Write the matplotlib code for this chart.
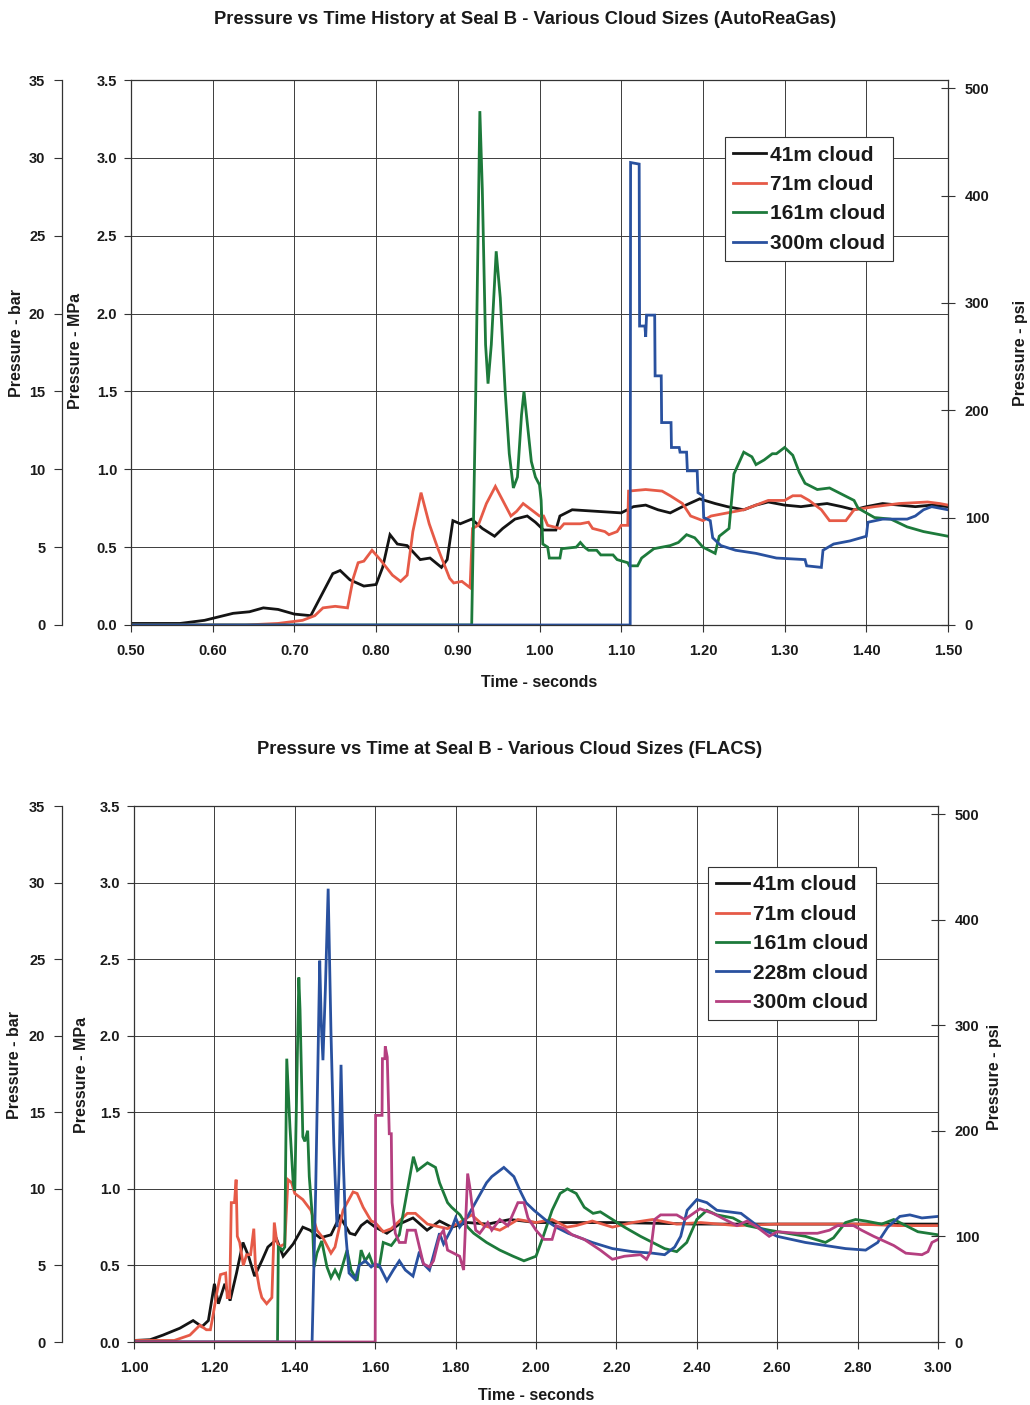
import matplotlib
matplotlib.use("Agg")
import matplotlib.pyplot as plt
import numpy as np

plt.rcParams['font.family'] = ['Liberation Sans', 'DejaVu Sans']
plt.rcParams['font.weight'] = 'bold'

W, H = 1030, 1405
MPA_TO_PSI = 145.038

# ---------------- AutoReaGas histories (time s, pressure MPa) ----------------
are_41_t = [0.50, 0.56, 0.59, 0.625, 0.645, 0.662, 0.68, 0.70, 0.72, 0.732, 0.747, 0.756, 0.768, 0.785,
            0.80, 0.808, 0.817, 0.826, 0.838, 0.854, 0.866, 0.88, 0.887, 0.894, 0.903, 0.917, 0.93,
            0.945, 0.955, 0.97, 0.985, 0.995, 1.005, 1.02, 1.025, 1.04, 1.07, 1.10, 1.115, 1.13, 1.145,
            1.16, 1.175, 1.196, 1.215, 1.23, 1.25, 1.265, 1.28, 1.30, 1.32, 1.335, 1.352, 1.37, 1.385,
            1.40, 1.42, 1.44, 1.46, 1.48, 1.50]
are_41_p = [0.01, 0.01, 0.03, 0.075, 0.085, 0.11, 0.10, 0.07, 0.06, 0.18, 0.33, 0.35, 0.29, 0.25,
            0.26, 0.37, 0.58, 0.52, 0.51, 0.42, 0.43, 0.37, 0.42, 0.67, 0.65, 0.68, 0.62,
            0.57, 0.62, 0.68, 0.70, 0.66, 0.61, 0.61, 0.70, 0.74, 0.73, 0.72, 0.76, 0.77, 0.74,
            0.72, 0.76, 0.81, 0.78, 0.76, 0.74, 0.77, 0.79, 0.77, 0.76, 0.77, 0.78, 0.76, 0.74,
            0.76, 0.78, 0.77, 0.76, 0.77, 0.76]

are_71_t = [0.50, 0.64, 0.68, 0.71, 0.725, 0.735, 0.75, 0.765, 0.772, 0.778, 0.785, 0.795, 0.805, 0.82,
            0.83, 0.838, 0.845, 0.855, 0.865, 0.875, 0.89, 0.895, 0.905, 0.915, 0.918, 0.925, 0.935,
            0.946, 0.955, 0.965, 0.972, 0.98, 0.99, 1.00, 1.005, 1.01, 1.025, 1.03, 1.05, 1.06, 1.065,
            1.08, 1.085, 1.095, 1.10, 1.108, 1.109, 1.13, 1.15, 1.16, 1.175, 1.185, 1.20, 1.21, 1.23,
            1.25, 1.265, 1.28, 1.30, 1.31, 1.32, 1.33, 1.345, 1.355, 1.375, 1.385, 1.41, 1.44, 1.475,
            1.49, 1.50]
are_71_p = [0.0, 0.0, 0.01, 0.03, 0.06, 0.11, 0.12, 0.11, 0.30, 0.40, 0.41, 0.48, 0.42, 0.32,
            0.28, 0.32, 0.60, 0.85, 0.65, 0.50, 0.30, 0.27, 0.28, 0.24, 0.62, 0.64, 0.78,
            0.89, 0.80, 0.70, 0.73, 0.78, 0.74, 0.70, 0.70, 0.64, 0.62, 0.65, 0.65, 0.66, 0.62,
            0.60, 0.58, 0.60, 0.64, 0.64, 0.86, 0.87, 0.86, 0.83, 0.78, 0.70, 0.67, 0.70, 0.72,
            0.74, 0.77, 0.80, 0.80, 0.83, 0.83, 0.80, 0.74, 0.67, 0.67, 0.74, 0.76, 0.78, 0.79,
            0.78, 0.77]

are_161_t = [0.50, 0.917, 0.922, 0.927, 0.930, 0.934, 0.937, 0.941, 0.947, 0.952, 0.958, 0.963, 0.968,
             0.973, 0.978, 0.981, 0.985, 0.99, 0.995, 1.00, 1.002, 1.004, 1.01, 1.012, 1.025, 1.027,
             1.045, 1.05, 1.055, 1.06, 1.07, 1.075, 1.09, 1.095, 1.108, 1.11, 1.12, 1.125, 1.14, 1.16,
             1.17, 1.18, 1.19, 1.20, 1.215, 1.22, 1.232, 1.238, 1.25, 1.26, 1.265, 1.275, 1.285, 1.29,
             1.30, 1.31, 1.318, 1.325, 1.34, 1.355, 1.37, 1.385, 1.39, 1.41, 1.43, 1.45, 1.47, 1.50]
are_161_p = [0.0, 0.0, 1.5, 3.30, 2.8, 1.8, 1.55, 1.8, 2.40, 2.1, 1.5, 1.1, 0.88,
             0.95, 1.35, 1.50, 1.30, 1.05, 0.95, 0.90, 0.80, 0.52, 0.50, 0.43, 0.43, 0.49,
             0.50, 0.53, 0.50, 0.48, 0.48, 0.45, 0.45, 0.42, 0.40, 0.38, 0.38, 0.43, 0.49, 0.51,
             0.53, 0.58, 0.56, 0.50, 0.46, 0.57, 0.62, 0.97, 1.11, 1.08, 1.03, 1.06, 1.10, 1.10,
             1.14, 1.09, 0.98, 0.91, 0.87, 0.88, 0.84, 0.80, 0.75, 0.69, 0.68, 0.63, 0.60, 0.57]

are_300_t = [0.50, 1.111, 1.1115, 1.122, 1.1225, 1.129, 1.130, 1.131, 1.141, 1.1415, 1.149, 1.1495,
             1.161, 1.1615, 1.171, 1.172, 1.180, 1.181, 1.193, 1.194, 1.200, 1.201, 1.209, 1.212,
             1.222, 1.24, 1.265, 1.29, 1.325, 1.327, 1.345, 1.347, 1.36, 1.38, 1.40, 1.402, 1.42,
             1.45, 1.46, 1.47, 1.48, 1.50]
are_300_p = [0.0, 0.0, 2.97, 2.96, 1.92, 1.92, 1.85, 1.99, 1.99, 1.60, 1.60, 1.30,
             1.30, 1.14, 1.14, 1.11, 1.11, 0.99, 0.99, 0.85, 0.83, 0.69, 0.67, 0.56,
             0.51, 0.48, 0.46, 0.43, 0.42, 0.38, 0.37, 0.48, 0.52, 0.54, 0.57, 0.66, 0.68,
             0.68, 0.70, 0.74, 0.76, 0.74]

# ---------------- FLACS histories (time s, pressure MPa) ----------------
fl_41_t = [1.00, 1.04, 1.072, 1.114, 1.147, 1.169, 1.185, 1.20, 1.21, 1.226, 1.239, 1.255, 1.271, 1.285,
           1.30, 1.318, 1.333, 1.355, 1.371, 1.396, 1.42, 1.438, 1.463, 1.49, 1.512, 1.537, 1.55, 1.565,
           1.58, 1.60, 1.629, 1.66, 1.694, 1.729, 1.76, 1.79, 1.83, 1.88, 1.935, 2.00, 2.20, 2.40, 2.60,
           2.80, 3.00]
fl_41_p = [0.01, 0.015, 0.045, 0.09, 0.14, 0.10, 0.14, 0.38, 0.25, 0.38, 0.27, 0.45, 0.65, 0.56,
           0.43, 0.53, 0.62, 0.67, 0.56, 0.64, 0.75, 0.73, 0.68, 0.70, 0.82, 0.71, 0.70, 0.76,
           0.79, 0.75, 0.71, 0.77, 0.81, 0.73, 0.79, 0.75, 0.78, 0.77, 0.80, 0.78, 0.78, 0.77, 0.77,
           0.77, 0.77]

fl_71_t = [1.00, 1.10, 1.139, 1.164, 1.18, 1.19, 1.195, 1.206, 1.215, 1.228, 1.232, 1.238, 1.242, 1.250,
           1.254, 1.257, 1.263, 1.272, 1.28, 1.29, 1.298, 1.302, 1.312, 1.318, 1.33, 1.343, 1.349,
           1.355, 1.36, 1.375, 1.383, 1.392, 1.40, 1.42, 1.44, 1.455, 1.47, 1.49, 1.50, 1.52, 1.545,
           1.555, 1.57, 1.59, 1.60, 1.62, 1.64, 1.68, 1.70, 1.73, 1.78, 1.81, 1.84, 1.87, 1.91, 1.93,
           1.955, 2.00, 2.04, 2.077, 2.10, 2.14, 2.19, 2.24, 2.29, 2.35, 2.41, 2.50, 2.60, 2.70, 2.80,
           2.90, 3.00]
fl_71_p = [0.01, 0.01, 0.045, 0.11, 0.08, 0.08, 0.15, 0.32, 0.44, 0.45, 0.29, 0.29, 0.91, 0.91,
           1.06, 0.69, 0.65, 0.50, 0.57, 0.57, 0.74, 0.50, 0.35, 0.29, 0.25, 0.29, 0.78,
           0.66, 0.62, 0.64, 1.06, 1.04, 0.97, 0.93, 0.86, 0.73, 0.68, 0.58, 0.62, 0.86, 0.98,
           0.97, 0.88, 0.79, 0.78, 0.72, 0.74, 0.84, 0.84, 0.77, 0.74, 0.78, 0.83, 0.76, 0.73, 0.76,
           0.80, 0.78, 0.80, 0.75, 0.76, 0.79, 0.75, 0.78, 0.80, 0.77, 0.78, 0.76, 0.77, 0.77, 0.77,
           0.76, 0.76]

fl_161_t = [1.00, 1.357, 1.359, 1.37, 1.375, 1.38, 1.388, 1.396, 1.40, 1.41, 1.413, 1.42, 1.425, 1.432,
            1.436, 1.443, 1.448, 1.455, 1.467, 1.48, 1.49, 1.50, 1.51, 1.53, 1.54, 1.555, 1.565, 1.575,
            1.585, 1.595, 1.61, 1.62, 1.64, 1.66, 1.68, 1.695, 1.705, 1.73, 1.75, 1.76, 1.78, 1.79,
            1.811, 1.83, 1.845, 1.877, 1.91, 1.943, 1.97, 2.00, 2.018, 2.04, 2.06, 2.078, 2.10, 2.12,
            2.142, 2.16, 2.19, 2.22, 2.26, 2.29, 2.32, 2.35, 2.375, 2.40, 2.425, 2.45, 2.49, 2.525,
            2.58, 2.625, 2.67, 2.72, 2.74, 2.77, 2.795, 2.82, 2.86, 2.89, 2.92, 2.95, 3.00]
fl_161_p = [0.0, 0.0, 0.62, 0.60, 0.62, 1.85, 1.40, 1.04, 0.99, 2.38, 2.17, 1.34, 1.31, 1.38,
            1.08, 0.84, 0.49, 0.58, 0.66, 0.49, 0.42, 0.47, 0.42, 0.60, 0.47, 0.40, 0.60, 0.53,
            0.57, 0.50, 0.49, 0.65, 0.63, 0.70, 0.99, 1.21, 1.12, 1.17, 1.14, 1.04, 0.91, 0.88,
            0.83, 0.75, 0.71, 0.65, 0.60, 0.56, 0.53, 0.56, 0.69, 0.86, 0.97, 1.00, 0.97, 0.88,
            0.84, 0.85, 0.80, 0.75, 0.69, 0.65, 0.61, 0.59, 0.65, 0.80, 0.86, 0.83, 0.81, 0.76,
            0.73, 0.71, 0.69, 0.65, 0.68, 0.78, 0.80, 0.79, 0.77, 0.80, 0.76, 0.72, 0.70]

fl_228_t = [1.00, 1.443, 1.452, 1.462, 1.466, 1.470, 1.476, 1.483, 1.49, 1.497, 1.505, 1.510, 1.515,
            1.52, 1.527, 1.535, 1.55, 1.56, 1.575, 1.59, 1.60, 1.61, 1.629, 1.645, 1.66, 1.675, 1.694,
            1.71, 1.72, 1.735, 1.76, 1.77, 1.79, 1.80, 1.81, 1.83, 1.877, 1.89, 1.92, 1.945, 1.96,
            1.975, 1.995, 2.027, 2.05, 2.08, 2.11, 2.14, 2.19, 2.24, 2.29, 2.32, 2.345, 2.36, 2.376,
            2.40, 2.425, 2.45, 2.48, 2.51, 2.53, 2.56, 2.60, 2.67, 2.72, 2.77, 2.82, 2.85, 2.875,
            2.905, 2.93, 2.96, 3.00]
fl_228_p = [0.0, 0.0, 1.0, 2.49, 2.07, 1.84, 2.3, 2.96, 2.02, 1.30, 0.75, 1.1, 1.81,
            1.23, 0.70, 0.45, 0.41, 0.50, 0.53, 0.49, 0.51, 0.50, 0.40, 0.47, 0.53, 0.47, 0.43,
            0.59, 0.51, 0.47, 0.71, 0.64, 0.74, 0.81, 0.75, 0.82, 1.04, 1.08, 1.14, 1.08, 0.99,
            0.91, 0.86, 0.79, 0.75, 0.71, 0.68, 0.65, 0.61, 0.59, 0.58, 0.57, 0.62, 0.69, 0.86,
            0.93, 0.91, 0.86, 0.85, 0.84, 0.80, 0.74, 0.69, 0.65, 0.63, 0.61, 0.60, 0.65, 0.75,
            0.82, 0.83, 0.81, 0.82]

fl_300_t = [1.00, 1.600, 1.601, 1.617, 1.618, 1.624, 1.625, 1.63, 1.635, 1.64, 1.642, 1.65, 1.66,
            1.675, 1.68, 1.70, 1.71, 1.72, 1.735, 1.745, 1.76, 1.77, 1.78, 1.81, 1.82, 1.83, 1.836,
            1.84, 1.85, 1.86, 1.88, 1.89, 1.91, 1.93, 1.955, 1.97, 1.98, 2.00, 2.02, 2.04, 2.05, 2.07,
            2.09, 2.12, 2.16, 2.19, 2.22, 2.26, 2.275, 2.285, 2.295, 2.31, 2.35, 2.37, 2.408, 2.44,
            2.47, 2.50, 2.525, 2.55, 2.58, 2.60, 2.65, 2.70, 2.73, 2.75, 2.79, 2.81, 2.84, 2.89, 2.92,
            2.96, 2.975, 2.985, 3.00]
fl_300_p = [0.0, 0.0, 1.48, 1.48, 1.85, 1.85, 1.93, 1.86, 1.36, 1.36, 0.91, 0.71, 0.65,
            0.65, 0.73, 0.73, 0.62, 0.51, 0.49, 0.53, 0.69, 0.73, 0.60, 0.56, 0.47, 1.10, 1.0,
            0.91, 0.73, 0.71, 0.78, 0.73, 0.80, 0.76, 0.91, 0.91, 0.81, 0.73, 0.67, 0.67, 0.76, 0.74,
            0.70, 0.67, 0.60, 0.54, 0.56, 0.57, 0.54, 0.59, 0.80, 0.83, 0.83, 0.80, 0.87, 0.84,
            0.80, 0.76, 0.79, 0.75, 0.69, 0.72, 0.71, 0.71, 0.73, 0.76, 0.76, 0.73, 0.69, 0.63, 0.58,
            0.57, 0.59, 0.65, 0.67]

C_BLACK = '#141414'
C_RED = '#e65a47'
C_GREEN = '#1d7a3b'
C_BLUE = '#29519f'
C_MAG = '#b53f80'

top_series = [("41m cloud", are_41_t, are_41_p, C_BLACK),
              ("71m cloud", are_71_t, are_71_p, C_RED),
              ("161m cloud", are_161_t, are_161_p, C_GREEN),
              ("300m cloud", are_300_t, are_300_p, C_BLUE)]
bot_series = [("41m cloud", fl_41_t, fl_41_p, C_BLACK),
              ("71m cloud", fl_71_t, fl_71_p, C_RED),
              ("161m cloud", fl_161_t, fl_161_p, C_GREEN),
              ("228m cloud", fl_228_t, fl_228_p, C_BLUE),
              ("300m cloud", fl_300_t, fl_300_p, C_MAG)]

top_xticks = [0.50, 0.60, 0.70, 0.80, 0.90, 1.00, 1.10, 1.20, 1.30, 1.40, 1.50]
bot_xticks = [1.00, 1.20, 1.40, 1.60, 1.80, 2.00, 2.20, 2.40, 2.60, 2.80, 3.00]
mpa_ticks = [0.0, 0.5, 1.0, 1.5, 2.0, 2.5, 3.0, 3.5]
bar_ticks = [0, 5, 10, 15, 20, 25, 30, 35]
psi_ticks = [0, 100, 200, 300, 400, 500]

fig = plt.figure(figsize=(W / 100, H / 100), dpi=100)
fig.patch.set_facecolor('white')

TICK_FS = 10.5
INK = '#1a1a1a'
AXC = '#333333'


def rect(l, t, r, b):
    return [l / W, 1 - b / H, (r - l) / W, (b - t) / H]


def build(box, xlim, xticks, series, bar_pos, legend_anchor):
    ax = fig.add_axes(rect(*box))
    for name, t, p, c in series:
        ax.plot(t, p, color=c, lw=2.0, label=name, solid_joinstyle='miter')
    ax.set_xlim(*xlim)
    ax.set_ylim(0, 3.5)
    ax.set_xticks(xticks)
    ax.set_xticklabels([f"{v:.2f}" for v in xticks], fontsize=TICK_FS, fontweight='bold', color=INK)
    ax.set_yticks(mpa_ticks)
    ax.set_yticklabels([f"{v:.1f}" for v in mpa_ticks], fontsize=TICK_FS, fontweight='bold', color=INK)
    ax.grid(True, color='#3c3c3c', lw=0.7)
    ax.tick_params(axis='x', direction='out', length=5, width=0.8, color=AXC, pad=9)
    ax.tick_params(axis='y', direction='out', length=5, width=0.8, color=AXC, pad=5)
    for s in ax.spines.values():
        s.set_color(AXC)
        s.set_linewidth(0.9)

    # psi scale on the right
    axp = ax.twinx()
    axp.set_ylim(0, 3.5 * MPA_TO_PSI)
    axp.set_yticks(psi_ticks)
    axp.set_yticklabels([str(v) for v in psi_ticks], fontsize=TICK_FS, fontweight='bold', color=INK)
    axp.tick_params(axis='y', direction='inout', length=10, width=0.8, color=AXC, pad=7)
    for s in axp.spines.values():
        s.set_visible(False)

    # bar scale on a detached left spine
    axb = ax.twinx()
    axb.set_ylim(0, 35)
    axb.spines['left'].set_visible(True)
    axb.spines['left'].set_position(('axes', bar_pos))
    axb.spines['left'].set_color(AXC)
    axb.spines['left'].set_linewidth(0.9)
    for k in ('right', 'top', 'bottom'):
        axb.spines[k].set_visible(False)
    axb.yaxis.set_ticks_position('left')
    axb.yaxis.set_label_position('left')
    axb.set_yticks(bar_ticks)
    axb.set_yticklabels([str(v) for v in bar_ticks], fontsize=TICK_FS, fontweight='bold', color=INK)
    axb.tick_params(axis='y', direction='out', length=6, width=0.8, color=AXC, pad=6)
    axb.patch.set_visible(False)

    leg = ax.legend(loc='upper left', bbox_to_anchor=legend_anchor, fontsize=15,
                    frameon=True, fancybox=False, framealpha=1, edgecolor=AXC,
                    handlelength=1.55, handletextpad=0.2, borderpad=0.4,
                    labelspacing=0.5, borderaxespad=0)
    leg.get_frame().set_linewidth(0.8)
    for txt in leg.get_texts():
        txt.set_fontweight('bold')
        txt.set_color(INK)
    ax.set_zorder(axb.get_zorder() + 1)
    ax.patch.set_visible(False)
    return ax


build((131, 80, 948, 625), (0.5, 1.5), top_xticks, top_series, (62 - 131) / 817, (0.727, 0.895))
build((134, 806, 938, 1342), (1.0, 3.0), bot_xticks, bot_series, (62 - 134) / 804, (0.714, 0.886))

LAB = dict(fontsize=11.5, fontweight='bold', color=INK, ha='center', va='center')
TTL = dict(fontsize=13.2, fontweight='bold', color=INK, ha='center', va='center')
fig.text(525 / W, 1 - 20 / H, "Pressure vs Time History at Seal B - Various Cloud Sizes (AutoReaGas)", **TTL)
fig.text(510 / W, 1 - 749 / H, "Pressure vs Time at Seal B - Various Cloud Sizes (FLACS)", **TTL)
fig.text(539 / W, 1 - 682 / H, "Time - seconds", **LAB)
fig.text(536 / W, 1 - 1396 / H, "Time - seconds", **LAB)
fig.text(17 / W, 1 - 343 / H, "Pressure - bar", rotation=90, **LAB)
fig.text(76 / W, 1 - 351 / H, "Pressure - MPa", rotation=90, **LAB)
fig.text(1020 / W, 1 - 353 / H, "Pressure - psi", rotation=90, **LAB)
fig.text(15 / W, 1 - 1065 / H, "Pressure - bar", rotation=90, **LAB)
fig.text(82 / W, 1 - 1075 / H, "Pressure - MPa", rotation=90, **LAB)
fig.text(995 / W, 1 - 1077 / H, "Pressure - psi", rotation=90, **LAB)

fig.savefig("out.png", dpi=100, facecolor='white')
